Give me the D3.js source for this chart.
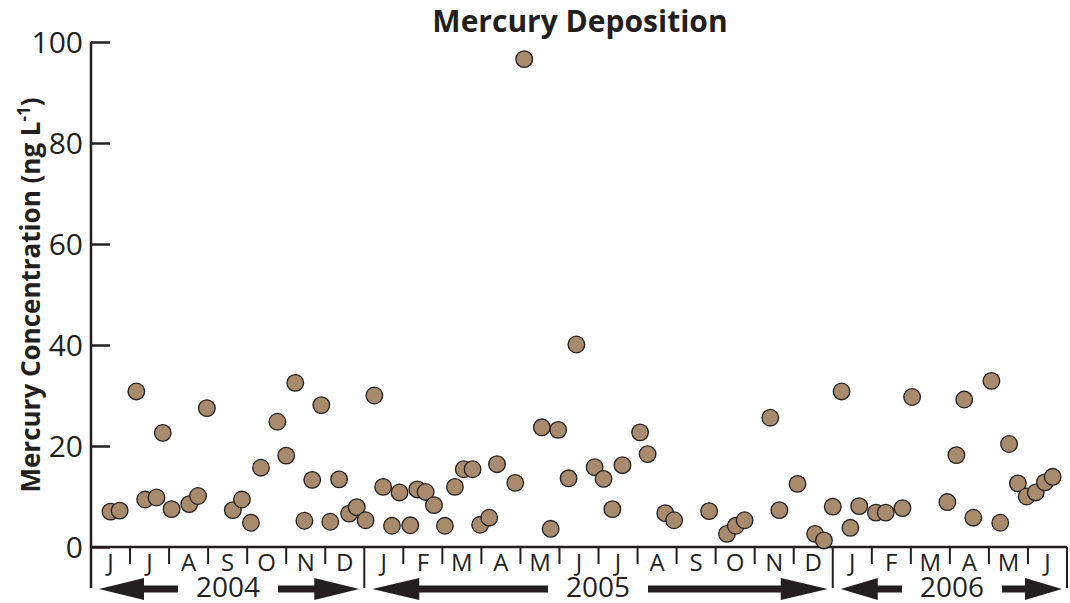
<!DOCTYPE html>
<html>
<head>
<meta charset="utf-8">
<title>Mercury Deposition</title>
<script src="https://cdn.jsdelivr.net/npm/d3@7"></script>
<style>
  body { margin: 0; background: #fff; }
  text { font-family: "Open Sans", "Noto Sans", sans-serif; fill: #231f20; }
</style>
</head>
<body>
<script>
// sample dates (estimated) and mercury concentrations, ng/L
var sampleDates = [
  "2004-06-16","2004-06-23","2004-07-06","2004-07-13","2004-07-22","2004-07-27",
  "2004-08-03","2004-08-17","2004-08-24","2004-08-31","2004-09-20","2004-09-27",
  "2004-10-04","2004-10-12","2004-10-25","2004-11-01","2004-11-08","2004-11-15",
  "2004-11-21","2004-11-28","2004-12-05","2004-12-12","2004-12-20","2004-12-26",
  "2005-01-02","2005-01-09","2005-01-16","2005-01-23","2005-01-29","2005-02-06",
  "2005-02-11","2005-02-17","2005-02-23","2005-03-03","2005-03-11","2005-03-18",
  "2005-03-25","2005-03-31","2005-04-07","2005-04-13","2005-04-27","2005-05-04",
  "2005-05-18","2005-05-25","2005-05-31","2005-06-08","2005-06-14","2005-06-28",
  "2005-07-05","2005-07-12","2005-07-20","2005-08-03","2005-08-09","2005-08-23",
  "2005-08-30","2005-09-26","2005-10-10","2005-10-17","2005-10-24","2005-11-13",
  "2005-11-20","2005-12-04","2005-12-18","2005-12-25","2006-01-01","2006-01-08",
  "2006-01-15","2006-01-22","2006-02-04","2006-02-11","2006-02-23","2006-03-02",
  "2006-03-30","2006-04-06","2006-04-12","2006-04-19","2006-05-03","2006-05-10",
  "2006-05-17","2006-05-24","2006-05-31","2006-06-07","2006-06-14","2006-06-20"
];
var mercury = [
  7.0, 7.2, 30.8, 9.4, 9.8, 22.6,
  7.5, 8.5, 10.1, 27.5, 7.3, 9.4,
  4.8, 15.7, 24.8, 18.1, 32.5, 5.2,
  13.3, 28.1, 5.0, 13.4, 6.6, 7.9,
  5.3, 30.0, 11.9, 4.2, 10.8, 4.3,
  11.4, 10.9, 8.3, 4.2, 11.9, 15.4,
  15.4, 4.4, 5.8, 16.4, 12.7, 96.6,
  23.7, 3.6, 23.2, 13.6, 40.1, 15.8,
  13.5, 7.5, 16.2, 22.7, 18.4, 6.7,
  5.3, 7.1, 2.6, 4.2, 5.3, 25.6,
  7.3, 12.5, 2.6, 1.3, 8.0, 30.8,
  3.8, 8.1, 6.8, 6.8, 7.7, 29.7,
  8.9, 18.2, 29.2, 5.8, 32.9, 4.8,
  20.4, 12.6, 10.0, 10.8, 12.8, 13.9
];
var monthLabels = ["J","J","A","S","O","N","D",
                   "J","F","M","A","M","J","J","A","S","O","N","D",
                   "J","F","M","A","M","J"];
var years = ["2004", "2005", "2006"];
var yearStart = [0, 7, 19];   // month index where each year begins on the axis
var yearEnd = [7, 19, 25];
var yTicks = [0, 20, 40, 60, 80, 100];

var w = 1070, h = 603;
var pLeft = 91, pRight = 1067, pTop = 42, pBottom = 547;
var ink = "#231f20";

var svg = d3.select("body").append("svg")
    .attr("width", w)
    .attr("height", h);

// months since June 2004, fractional within the month
var parse = d3.timeParse("%Y-%m-%d");
function monthPos(s) {
  var d = parse(s);
  var m = (d.getFullYear() - 2004) * 12 + d.getMonth() - 5;
  var days = new Date(d.getFullYear(), d.getMonth() + 1, 0).getDate();
  return m + (d.getDate() - 1) / days;
}

var x = d3.scaleLinear().domain([0, monthLabels.length]).range([pLeft, pRight]);
var y = d3.scaleLinear().domain([0, 100]).range([pBottom, pTop]);

// y axis, ticks pointing inward
var yAxis = d3.axisRight(y).tickValues(yTicks).tickSize(19).tickFormat("");
var gy = svg.append("g").attr("transform", "translate(" + pLeft + ",0)").call(yAxis);
gy.select(".domain").remove();
gy.selectAll("line").attr("stroke", ink).attr("stroke-width", 2.5);

svg.selectAll(".ylab")
    .data(yTicks)
    .enter()
    .append("text")
    .attr("class", "ylab")
    .attr("x", pLeft - 8)
    .attr("y", function(d) { return y(d); })
    .attr("dy", "0.36em")
    .attr("text-anchor", "end")
    .style("font-size", "30px")
    .text(function(d) { return d; });

// axis frame lines
svg.append("line")
    .attr("x1", pLeft).attr("x2", pLeft)
    .attr("y1", y(100)).attr("y2", 588)
    .attr("stroke", ink).attr("stroke-width", 2.5);
svg.append("line")
    .attr("x1", pLeft).attr("x2", pRight)
    .attr("y1", y(0)).attr("y2", y(0))
    .attr("stroke", ink).attr("stroke-width", 2.5);

// month ticks below the axis
var monthTicks = d3.range(1, monthLabels.length).filter(function(m) {
  return yearStart.indexOf(m) < 0;
});
svg.selectAll(".mtick")
    .data(monthTicks)
    .enter()
    .append("line")
    .attr("class", "mtick")
    .attr("x1", function(d) { return x(d); })
    .attr("x2", function(d) { return x(d); })
    .attr("y1", pBottom)
    .attr("y2", pBottom + 17)
    .attr("stroke", ink).attr("stroke-width", 2);

// year boundaries
svg.selectAll(".ytick")
    .data([7, 19, 25])
    .enter()
    .append("line")
    .attr("class", "ytick")
    .attr("x1", function(d) { return x(d); })
    .attr("x2", function(d) { return x(d); })
    .attr("y1", pBottom)
    .attr("y2", 588)
    .attr("stroke", ink).attr("stroke-width", 2);

svg.selectAll(".mlab")
    .data(monthLabels)
    .enter()
    .append("text")
    .attr("class", "mlab")
    .attr("x", function(d, i) { return x(i + 0.5); })
    .attr("y", 571)
    .attr("text-anchor", "middle")
    .style("font-size", "24px")
    .text(function(d) { return d; });

// year labels with arrows either side
var yearCx = [228, 598, 952];
var headLen = [45, 47, 37];
var textHalf = 36, gap = 14, headH = 11, shaft = 3.5;
years.forEach(function(yr, i) {
  var x0 = x(yearStart[i]) + 8, x1 = x(yearEnd[i]) - 5;
  var cx = yearCx[i];
  var cy = 589;
  svg.append("text")
      .attr("x", cx)
      .attr("y", 597)
      .attr("text-anchor", "middle")
      .style("font-size", "28px")
      .text(yr);
  var hd = headLen[i];
  var a = cx - textHalf - gap, b = cx + textHalf + gap;
  var leftArrow = [[x0, cy], [x0 + hd, cy - headH], [x0 + hd, cy - shaft], [a, cy - shaft],
                   [a, cy + shaft], [x0 + hd, cy + shaft], [x0 + hd, cy + headH]];
  var rightArrow = [[x1, cy], [x1 - hd, cy - headH], [x1 - hd, cy - shaft], [b, cy - shaft],
                    [b, cy + shaft], [x1 - hd, cy + shaft], [x1 - hd, cy + headH]];
  svg.append("path").attr("d", d3.line()(leftArrow) + "Z").attr("fill", ink);
  svg.append("path").attr("d", d3.line()(rightArrow) + "Z").attr("fill", ink);
});

// points
svg.selectAll("circle")
    .data(mercury)
    .enter()
    .append("circle")
    .attr("cx", function(d, i) { return x(monthPos(sampleDates[i])); })
    .attr("cy", function(d) { return y(d); })
    .attr("r", 8.3)
    .attr("fill", "#a88b6c")
    .attr("stroke", ink)
    .attr("stroke-width", 1.3);

// title and y label
svg.append("text")
    .attr("x", 580)
    .attr("y", 32)
    .attr("text-anchor", "middle")
    .style("font-size", "30px")
    .style("font-weight", "bold")
    .text("Mercury Deposition");

var yl = svg.append("text")
    .attr("transform", "translate(40,295) rotate(-90)")
    .attr("text-anchor", "middle")
    .style("font-size", "26px")
    .style("font-weight", "bold");
yl.append("tspan").text("Mercury Concentration (ng L");
yl.append("tspan").attr("dy", -10).style("font-size", "17px").text("-1");
yl.append("tspan").attr("dy", 10).text(")");
</script>
</body>
</html>
